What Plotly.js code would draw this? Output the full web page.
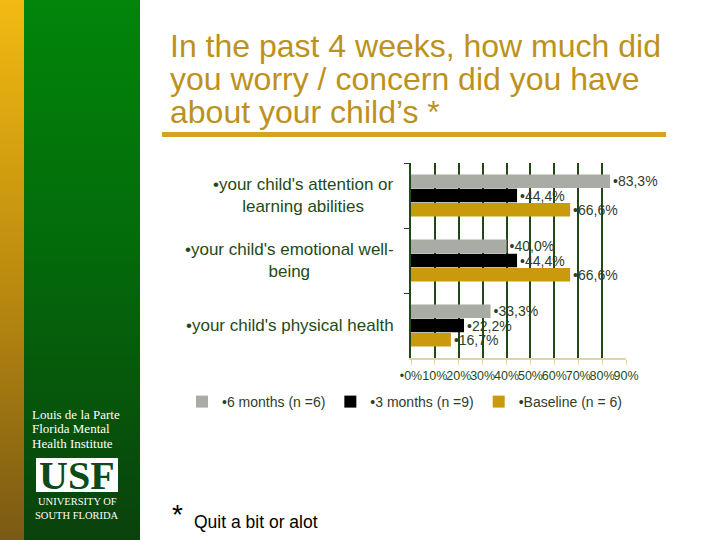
<!DOCTYPE html>
<html>
<head>
<meta charset="utf-8">
<script src="https://cdn.plot.ly/plotly-3.0.1.min.js"></script>
<style>
  body { margin: 0; }
  #wrap { position: relative; width: 720px; height: 540px; background: #ffffff; }
  #gold { position: absolute; left: 0; top: 0; width: 24px; height: 540px;
    background: linear-gradient(to bottom, #f2ba12, #b8880f 55%, #7a5a14); }
  #green { position: absolute; left: 24px; top: 0; width: 116px; height: 540px;
    background: linear-gradient(to bottom, #02850a, #036b0a 45%, #0a420c); }
  #chart { position: absolute; left: 0; top: 0; width: 720px; height: 540px; }
</style>
</head>
<body>
<div id="wrap">
  <div id="gold"></div>
  <div id="green"></div>
  <div id="chart"></div>
</div>
<script>
const categories = [
  "•your child's attention or<br>learning abilities",
  "•your child's emotional well-<br>being",
  "•your child's physical health"
];
const seriesNames = ['•6 months (n =6)', '•3 months (n =9)', '•Baseline (n = 6)'];
const sixMonths = [83.3, 40.0, 33.3];
const threeMonths = [44.4, 44.4, 22.2];
const baseline = [66.6, 66.6, 16.7];
const xTickVals = [0, 10, 20, 30, 40, 50, 60, 70, 80, 90];
const xTickText = ['•0%', '10%', '20%', '30%', '40%', '50%', '60%', '70%', '80%', '90%'];
const titleLines = [
  'In the past 4 weeks, how much did',
  'you worry / concern did you have',
  'about your child’s *'
];
const instituteLines = ['Louis de la Parte', 'Florida Mental', 'Health Institute'];

const darkGreen = '#1f4a17';
const seriesColors = ['#a8aca5', '#000000', '#c99a0c'];

// plot area in pixels: x 411..626, y 163..358
const L = 411, R = 626, T = 163, B = 358;
function px(x) { return (x - L) / (R - L); }
function py(y) { return (B - y) / (B - T); }

function label(v) {
  return '•' + v.toFixed(1).replace('.', ',') + '%';
}

const data = [sixMonths, threeMonths, baseline].map(function (vals, i) {
  return {
    type: 'bar',
    orientation: 'h',
    x: vals,
    y: categories,
    name: seriesNames[i],
    marker: { color: seriesColors[i] },
    text: vals.map(label),
    textposition: 'outside',
    constraintext: 'none',
    cliponaxis: false,
    textfont: { family: 'Arial, Liberation Sans', size: 14, color: '#2f3d2a' },
    hoverinfo: 'none'
  };
});

const annotations = [];
titleLines.forEach(function (t, i) {
  annotations.push({
    text: t, xref: 'paper', yref: 'paper', x: px(168), y: py(46 + i * 33),
    xanchor: 'left', yanchor: 'middle', showarrow: false,
    font: { family: 'Arial, Liberation Sans', size: 32, color: '#bc921c' }
  });
});
categories.forEach(function (c, i) {
  annotations.push({
    text: c, xref: 'paper', yref: 'paper', x: px(396),
    y: py(T + (i + 0.5) * (B - T) / 3), xanchor: 'right', yanchor: 'middle',
    align: 'center', showarrow: false,
    font: { family: 'Arial, Liberation Sans', size: 17, color: darkGreen }
  });
});
instituteLines.forEach(function (t, i) {
  annotations.push({
    text: t, xref: 'paper', yref: 'paper', x: px(30), y: py(414 + i * 14.5),
    xanchor: 'left', yanchor: 'middle', showarrow: false,
    font: { family: 'Liberation Serif, DejaVu Serif', size: 13, color: '#ffffff' }
  });
});
annotations.push({
  text: '<b>USF</b>', xref: 'paper', yref: 'paper', x: px(77), y: py(475),
  xanchor: 'center', yanchor: 'middle', showarrow: false, height: 32,
  font: { family: 'Liberation Serif', size: 40, color: '#0c4a18' }
});
annotations.push({
  text: 'UNIVERSITY OF', xref: 'paper', yref: 'paper', x: px(77), y: py(501),
  xanchor: 'center', yanchor: 'middle', showarrow: false,
  font: { family: 'Liberation Serif', size: 10.5, color: '#ffffff' }
});
annotations.push({
  text: 'SOUTH FLORIDA', xref: 'paper', yref: 'paper', x: px(77), y: py(515),
  xanchor: 'center', yanchor: 'middle', showarrow: false,
  font: { family: 'Liberation Serif', size: 10.5, color: '#ffffff' }
});
annotations.push({
  text: '*', xref: 'paper', yref: 'paper', x: px(170), y: py(514),
  xanchor: 'left', yanchor: 'middle', showarrow: false,
  font: { family: 'Arial, Liberation Sans', size: 28, color: '#000000' }
});
annotations.push({
  text: 'Quit a bit or alot', xref: 'paper', yref: 'paper', x: px(192), y: py(522),
  xanchor: 'left', yanchor: 'middle', showarrow: false,
  font: { family: 'Arial, Liberation Sans', size: 17.5, color: '#000000' }
});

const layout = {
  width: 720,
  height: 540,
  margin: { l: L, r: 720 - R, t: T, b: 540 - B, pad: 0 },
  paper_bgcolor: 'rgba(0,0,0,0)',
  plot_bgcolor: 'rgba(0,0,0,0)',
  barmode: 'group',
  bargap: 0.34,
  bargroupgap: 0.06,
  showlegend: true,
  legend: {
    orientation: 'h',
    x: px(182), xanchor: 'left', y: py(402), yanchor: 'middle',
    traceorder: 'normal',
    font: { family: 'Arial, Liberation Sans', size: 14, color: '#2f3d2a' },
    itemwidth: 30
  },
  xaxis: {
    range: [0, 90],
    tickvals: xTickVals,
    ticktext: xTickText,
    tickangle: 0,
    showgrid: true, gridcolor: darkGreen, gridwidth: 2,
    zeroline: false,
    showline: true, linecolor: '#e3d3a3', linewidth: 2,
    ticks: 'outside', tickcolor: '#e3d3a3', ticklen: 5,
    tickfont: { family: 'Arial, Liberation Sans', size: 12.5, color: darkGreen },
    fixedrange: true
  },
  yaxis: {
    type: 'category',
    autorange: 'reversed',
    showticklabels: false,
    showgrid: false,
    showline: true, linecolor: darkGreen, linewidth: 2,
    ticks: 'outside', tickson: 'boundaries', tickcolor: darkGreen, ticklen: 5,
    fixedrange: true
  },
  shapes: [
    { type: 'rect', xref: 'paper', yref: 'paper',
      x0: px(162), x1: px(666), y0: py(132), y1: py(137),
      fillcolor: '#d4a41c', line: { width: 0 } },
    { type: 'rect', xref: 'paper', yref: 'paper',
      x0: px(36), x1: px(118), y0: py(458), y1: py(492),
      fillcolor: '#ffffff', line: { width: 0 } }
  ],
  annotations: annotations
};

Plotly.newPlot('chart', data, layout, { displayModeBar: false, staticPlot: true });
</script>
</body>
</html>
